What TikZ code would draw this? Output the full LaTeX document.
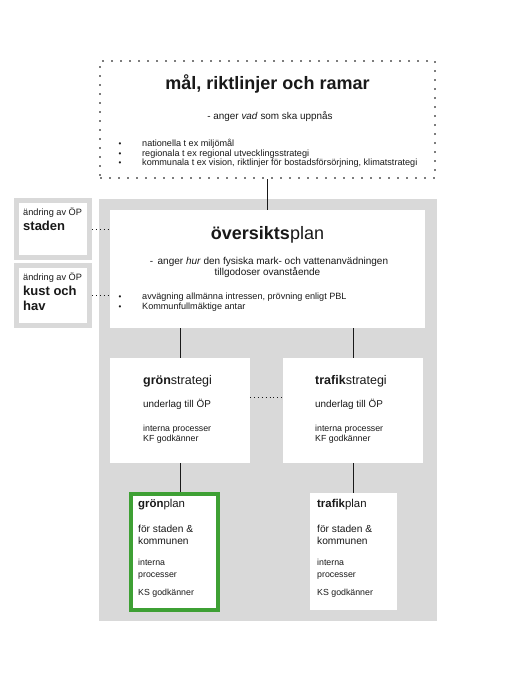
\documentclass[tikz,border=0pt]{standalone}
\usepackage{fontspec}
\setmainfont{Liberation Sans}
\definecolor{bggray}{RGB}{217,217,217}
\definecolor{dotgray}{RGB}{125,125,125}
\definecolor{ink}{RGB}{25,25,25}
\definecolor{grn}{RGB}{62,160,52}
\newcommand\myfs[1]{\fontsize{#1}{#1}\selectfont}
\begin{document}
\begin{tikzpicture}[x=1pt,y=-1pt,
  panel/.style={fill=white,draw=none,inner sep=0,outer sep=0,anchor=north west},
  sidebox/.style={fill=white,draw=bggray,line width=5pt,inner sep=0,outer sep=2.5pt,anchor=north west},
  greenbox/.style={fill=white,draw=grn,line width=4pt,inner sep=0,outer sep=2pt,anchor=north west},
  dotbox/.style={draw=dotgray,line width=2pt,dash pattern=on 2pt off 7pt,inner sep=0,outer sep=1pt,anchor=north west},
  txt/.style={inner sep=0,anchor=mid west,text=ink},
  ctxt/.style={inner sep=0,anchor=mid,text=ink},
  conn/.style={draw=ink,line width=0.8pt},
  dotconn/.style={draw=ink,line width=0.9pt,dash pattern=on 0.9pt off 3pt}]
\useasboundingbox (0,0) rectangle (506,681);
\fill[white] (0,0) rectangle (506,681);
% background area
\node[panel,fill=bggray,minimum width=338,minimum height=422] (area) at (99,199) {};
% top dotted box
\node[dotbox,minimum width=335,minimum height=117] (mal) at (99,60) {};
\node[ctxt,font=\myfs{18}\bfseries] (maltitle) at (267.5,87) {mål, riktlinjer och ramar};
\node[ctxt,font=\myfs{9.9}] (malsub) at (270,117) {- anger \textit{vad} som ska uppnås};
\node[ctxt,font=\myfs{8}] (mb1) at (120,144) {•};
\node[ctxt,font=\myfs{8}] (mb2) at (120,153.5) {•};
\node[ctxt,font=\myfs{8}] (mb3) at (120,163) {•};
\node[txt,font=\myfs{9.1}] (ml1) at (142,144) {nationella t ex miljömål};
\node[txt,font=\myfs{9.1}] (ml2) at (142,153.5) {regionala t ex regional utvecklingsstrategi};
\node[txt,font=\myfs{9.1}] (ml3) at (142,163) {kommunala t ex vision, riktlinjer för bostadsförsörjning, klimatstrategi};
% side boxes
\node[sidebox,minimum width=73,minimum height=57] (st) at (14,198) {};
\node[txt,font=\myfs{9.2}] (st1) at (23,213) {ändring av ÖP};
\node[txt,font=\myfs{13}\bfseries] (st2) at (23,228) {staden};
\node[sidebox,minimum width=73,minimum height=60] (ku) at (14,263) {};
\node[txt,font=\myfs{9.2}] (ku1) at (23,278) {ändring av ÖP};
\node[txt,font=\myfs{13}\bfseries] (ku2) at (23,293) {kust och};
\node[txt,font=\myfs{13}\bfseries] (ku3) at (23,308) {hav};
% oversiktsplan
\node[panel,minimum width=315,minimum height=118] (ov) at (110,210) {};
\node[ctxt,font=\myfs{18}] (ovtitle) at (267.5,237) {\textbf{översikts}plan};
\node[ctxt,font=\myfs{10}] (ovsub1) at (269,262) {-\, anger \textit{hur} den fysiska mark- och vattenanvädningen};
\node[ctxt,font=\myfs{10}] (ovsub2) at (267.5,273) {tillgodoser ovanstående};
\node[ctxt,font=\myfs{8}] (ob1) at (120,297) {•};
\node[ctxt,font=\myfs{8}] (ob2) at (120,307) {•};
\node[txt,font=\myfs{9.1}] (ol1) at (142,297) {avvägning allmänna intressen, prövning enligt PBL};
\node[txt,font=\myfs{9.1}] (ol2) at (142,307) {Kommunfullmäktige antar};
% strategies
\node[panel,minimum width=140,minimum height=105] (gs) at (110,358) {};
\node[txt,font=\myfs{12.5}] (gs1) at (143,382) {\textbf{grön}strategi};
\node[txt,font=\myfs{9.9}] (gs2) at (143,405) {underlag till ÖP};
\node[txt,font=\myfs{8.8}] (gs3) at (143,429) {interna processer};
\node[txt,font=\myfs{8.8}] (gs4) at (143,439) {KF godkänner};
\node[panel,minimum width=140,minimum height=105] (ts) at (283,358) {};
\node[txt,font=\myfs{12.5}] (ts1) at (315,382) {\textbf{trafik}strategi};
\node[txt,font=\myfs{9.9}] (ts2) at (315,405) {underlag till ÖP};
\node[txt,font=\myfs{8.8}] (ts3) at (315,429) {interna processer};
\node[txt,font=\myfs{8.8}] (ts4) at (315,439) {KF godkänner};
% plans
\node[greenbox,minimum width=87,minimum height=116] (gp) at (129,492) {};
\node[txt,font=\myfs{11.4}] (gp1) at (138,505) {\textbf{grön}plan};
\node[txt,font=\myfs{10.2}] (gp2) at (138,530) {för staden \&};
\node[txt,font=\myfs{10.2}] (gp3) at (138,542) {kommunen};
\node[txt,font=\myfs{8.8}] (gp4) at (138,563) {interna};
\node[txt,font=\myfs{8.8}] (gp5) at (138,575) {processer};
\node[txt,font=\myfs{8.8}] (gp6) at (138,593) {KS godkänner};
\node[panel,minimum width=87,minimum height=117] (tp) at (310,493) {};
\node[txt,font=\myfs{11.4}] (tp1) at (317,505) {\textbf{trafik}plan};
\node[txt,font=\myfs{10.2}] (tp2) at (317,530) {för staden \&};
\node[txt,font=\myfs{10.2}] (tp3) at (317,542) {kommunen};
\node[txt,font=\myfs{8.8}] (tp4) at (317,563) {interna};
\node[txt,font=\myfs{8.8}] (tp5) at (317,575) {processer};
\node[txt,font=\myfs{8.8}] (tp6) at (317,593) {KS godkänner};
% connectors
\draw[conn] (mal.south) -- (ov.north);
\draw[conn] (ov.south -| gs.north) -- (gs.north);
\draw[conn] (ov.south -| ts.north) -- (ts.north);
\draw[conn] (gs.south) -- (gs.south |- gp.north);
\draw[conn] (ts.south) -- (ts.south |- tp.north);
\draw[dotconn] (st.east) -- (st.east -| ov.west);
\draw[dotconn] (ku.east) -- (ku.east -| ov.west);
\draw[dotconn] ([yshift=13.5pt]gs.east) -- ([yshift=13.5pt]ts.west);
\end{tikzpicture}
\end{document}
